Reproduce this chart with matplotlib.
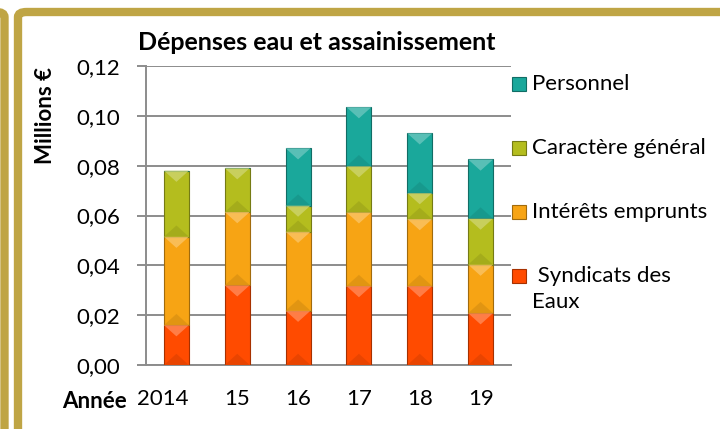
import numpy as np
import matplotlib
matplotlib.use('Agg')
from matplotlib import pyplot as plt
from matplotlib.patches import Rectangle, Polygon, FancyBboxPatch
from matplotlib.ticker import FuncFormatter
from matplotlib.colors import to_rgb
import matplotlib.transforms as mtransforms

plt.rcParams['font.family'] = ['Lato', 'DejaVu Sans']

years = ['2014', '15', '16', '17', '18', '19']
syndicats = [0.0160, 0.0320, 0.0218, 0.0317, 0.0317, 0.0208]
interets = [0.0355, 0.0294, 0.0317, 0.0296, 0.0269, 0.0195]
caractere = [0.0265, 0.0176, 0.0105, 0.0185, 0.0104, 0.0185]
personnel = [0.0, 0.0, 0.0230, 0.0237, 0.0240, 0.0237]

series = [
    (' Syndicats des\nEaux', syndicats, '#ff4b00'),
    ('Intérêts emprunts', interets, '#f7a414'),
    ('Caractère général', caractere, '#b4bd1e'),
    ('Personnel', personnel, '#1aa89b'),
]

GOLD = '#bfa545'
GRID = '#8c8c8c'


def shade(c, f):
    r, g, b = to_rgb(c)
    if f > 0:
        return (r + (1 - r) * f, g + (1 - g) * f, b + (1 - b) * f)
    return (r * (1 + f), g * (1 + f), b * (1 + f))


fig = plt.figure(figsize=(7.2, 4.29), dpi=100)
ax = fig.add_axes([146 / 720, 1 - 365 / 429, 365 / 720, 299 / 429])

x = np.arange(len(years))
width = 0.41
bottom = np.zeros(len(years))
for label, vals, color in series:
    vals = np.array(vals)
    ax.bar(x, vals, width, bottom=bottom, color=color,
           edgecolor=shade(color, -0.35), linewidth=0.8, zorder=3)
    # bevel look: light triangle on top, darker one at the bottom
    for xi, b, v in zip(x, bottom, vals):
        if v <= 0:
            continue
        t = b + v
        d = min(0.0045, v / 2)
        ax.add_patch(Polygon([(xi - width / 2, t), (xi + width / 2, t), (xi, t - d)],
                             closed=True, facecolor=shade(color, 0.35),
                             edgecolor='none', alpha=0.8, zorder=4))
        ax.add_patch(Polygon([(xi - width / 2, b), (xi + width / 2, b), (xi, b + d)],
                             closed=True, facecolor=shade(color, -0.12),
                             edgecolor='none', alpha=0.7, zorder=4))
    bottom += vals

ax.set_xlim(-0.5, len(years) - 0.5)
ax.set_ylim(0, 0.12)
ax.set_yticks(np.arange(0, 0.121, 0.02))
ax.yaxis.set_major_formatter(FuncFormatter(lambda v, p: f'{v:.2f}'.replace('.', ',')))
ax.grid(axis='y', color=GRID, linewidth=1.4, zorder=0)
ax.set_axisbelow(True)
for s in ['top', 'right']:
    ax.spines[s].set_visible(False)
for s in ['left', 'bottom']:
    ax.spines[s].set_color(GRID)
    ax.spines[s].set_linewidth(1.4)
ax.tick_params(axis='y', length=6.5, width=1.4, color=GRID, pad=12, labelsize=16)
ax.tick_params(axis='x', length=0, pad=17, labelsize=16)
ax.set_xticks(x)
ax.set_xticklabels(years)
first = ax.get_xticklabels()[0]
first.set_horizontalalignment('right')
first.set_transform(first.get_transform()
                    + mtransforms.ScaledTranslation(12 / 100, 0, fig.dpi_scale_trans))

fig.text(127 / 720, 1 - 408 / 429, 'Année', ha='right', va='baseline',
         fontsize=16, fontweight='bold')
fig.text(46 / 720, 1 - 115 / 429, 'Millions €', rotation=90, ha='center', va='center',
         fontsize=16, fontweight='bold')
fig.text(317 / 720, 1 - 50 / 429, 'Dépenses eau et assainissement', ha='center',
         va='baseline', fontsize=18, fontweight='bold')

# legend drawn by hand so the marker sits on the first line of the last label
for i, (label, vals, color) in enumerate(reversed(series)):
    yc = 84 + 64 * i
    fig.patches.append(Rectangle((512 / 720, 1 - (yc + 7) / 429), 14 / 720, 14 / 429,
                                 transform=fig.transFigure, facecolor=color,
                                 edgecolor=shade(color, -0.35), linewidth=0.8))
    if '\n' in label:
        fig.text(532 / 720, 1 - (yc - 10) / 429, label, ha='left', va='top',
                 fontsize=16, linespacing=1.4)
    else:
        fig.text(532 / 720, 1 - yc / 429, label, ha='left', va='center', fontsize=16)

# gold frames
fig.patches.append(FancyBboxPatch((18 / 720, -0.2), 1.2, 1 - 12 / 429 + 0.2,
                                  boxstyle='round,pad=0,rounding_size=0.012',
                                  transform=fig.transFigure, facecolor='none',
                                  edgecolor=GOLD, linewidth=6))
fig.patches.append(FancyBboxPatch((-0.2, -0.2), 0.2 + 4.5 / 720, 1 - 12 / 429 + 0.2,
                                  boxstyle='round,pad=0,rounding_size=0.012',
                                  transform=fig.transFigure, facecolor='none',
                                  edgecolor=GOLD, linewidth=6))

fig.savefig('out.png', dpi=100)
